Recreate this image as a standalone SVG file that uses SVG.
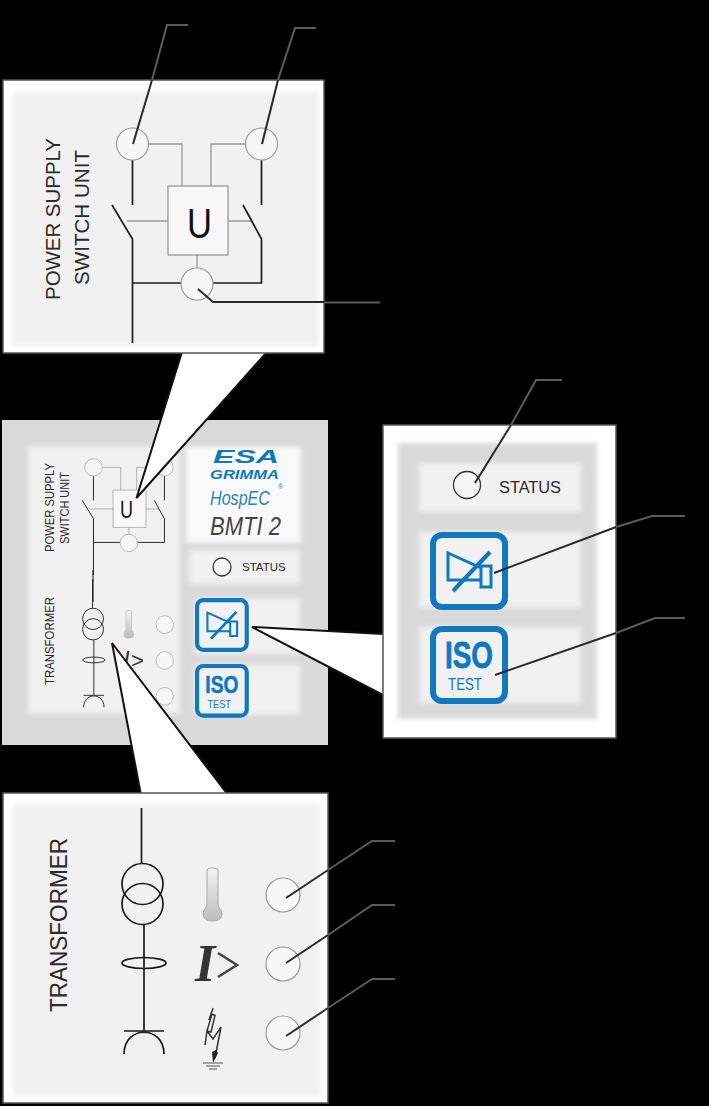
<svg xmlns="http://www.w3.org/2000/svg" xmlns:xlink="http://www.w3.org/1999/xlink" width="709" height="1106" viewBox="0 0 709 1106">
<style>
text{font-family:"Liberation Sans",Arial,sans-serif;fill:#2a2a2a}
.panel{fill:#fff;stroke:#555;stroke-width:1.500}
.soft{fill:#f1f1f1;filter:url(#blur)}
.softw{fill:#fafafa;filter:url(#blur)}
.gray{fill:#d9d9d9;filter:url(#blur)}
.thin{fill:none;stroke:#999;stroke-width:1.300}
.wire{fill:none;stroke:#1a1a1a;stroke-width:1.700}
.led{fill:#f7f7f7;stroke:#999;stroke-width:1.200}
.ledk{fill:#f7f7f7;stroke:#333;stroke-width:1.300}
.wedge{fill:#fff;stroke:none}
.edge{fill:none;stroke:#111;stroke-width:2}
.lead{fill:none;stroke:#2a2a2a;stroke-width:2}
.leadout{fill:none;stroke:#5c5c5c;stroke-width:2}
.blue{fill:none;stroke:#0f78be}
</style>
<defs>
<filter id="blur" x="-10%" y="-10%" width="120%" height="120%"><feGaussianBlur stdDeviation="2.500"/></filter>
<linearGradient id="therm" x1="0" y1="0" x2="0" y2="1"><stop offset="0" stop-color="#f4f4f4"/><stop offset="1" stop-color="#bdbdbd"/></linearGradient>
<g id="schemPower">
<path class="thin" d="M149 144H182V186M211 186V144H245"/>
<path class="thin" d="M127 221H168M228 221H252M197 255V268"/>
<rect x="168" y="186" width="60" height="69" fill="#f8f8f8" stroke="#999" stroke-width="1.300"/>
<path class="wire" d="M132.500 160V205M261.500 160V205M112 205L132.500 239V343M243 205L261.500 239V283H213M181 283H132.500"/>
<circle class="led" cx="132.500" cy="144" r="16"/>
<circle class="led" cx="261.500" cy="144" r="16"/>
<circle class="led" cx="197" cy="284" r="16"/>
</g>
<g id="schemTrans">
<path class="wire" d="M141.500 808V864M144 925V1031M124 1031H164"/>
<circle cx="142.500" cy="884" r="20.500" class="wire"/>
<circle cx="142.500" cy="904" r="20.500" class="wire"/>
<ellipse cx="144" cy="963" rx="22" ry="5.500" class="wire"/>
<path class="wire" d="M124 1054C124 1025 164 1025 164 1054"/>
<path d="M207 870Q207 868 212.500 868Q218 868 218 870V906Q222 910 222 914Q222 921 212.500 921Q203 921 203 914Q203 910 207 906Z" fill="url(#therm)" stroke="#aaa"/>
<circle class="led" cx="283" cy="895" r="17"/>
<circle class="led" cx="283" cy="964" r="17"/>
<circle class="led" cx="283" cy="1033" r="17"/>
</g>
<g id="btnMute">
<rect x="433" y="535" width="72" height="72" rx="9" class="blue" stroke-width="6" fill="#fff"/>
<path class="blue" stroke-width="3" d="M448 553L481 568V580H448ZM481 566H491V587H481Z"/>
<path class="blue" stroke-width="4" d="M453 591L490 552"/>
</g>
<g id="btnIso">
<rect x="433" y="629" width="72" height="72" rx="9" class="blue" stroke-width="6" fill="#fff"/>
<text x="445" y="668" font-size="36" font-weight="bold" style="fill:#0f78be;stroke:#0f78be;stroke-width:.8" textLength="48" lengthAdjust="spacingAndGlyphs">ISO</text>
<text x="448" y="690" font-size="17" style="fill:#0f78be" textLength="34" lengthAdjust="spacingAndGlyphs">TEST</text>
</g>
</defs>
<rect width="709" height="1106" fill="#000"/>

<g id="device-panel">
<rect x="2" y="420" width="326" height="325" fill="#d9d9d9"/>
<rect x="28" y="446" width="152" height="268" class="soft"/>
<rect x="186" y="447" width="115" height="96" class="softw"/>
<rect x="189" y="550" width="111" height="34" class="soft"/>
<rect x="195" y="598" width="105" height="56" class="soft"/>
<rect x="195" y="665" width="105" height="50" class="soft"/>
<text transform="translate(54 552) rotate(-90)" font-size="12.500" textLength="89" lengthAdjust="spacingAndGlyphs">POWER SUPPLY</text>
<text transform="translate(69 544) rotate(-90)" font-size="12.500" textLength="72" lengthAdjust="spacingAndGlyphs">SWITCH UNIT</text>
<text transform="translate(54 685) rotate(-90)" font-size="12.500" textLength="88" lengthAdjust="spacingAndGlyphs">TRANSFORMER</text>
<use xlink:href="#schemPower" href="#schemPower" transform="translate(20.600 389.600) scale(.55 .54)"/>
<path d="M93 570V602" fill="none" stroke="#1a1a1a" stroke-width="1.100"/>
<text x="120" y="518" font-size="23" textLength="13" lengthAdjust="spacingAndGlyphs" style="fill:#111">U</text>
<use xlink:href="#schemTrans" href="#schemTrans" transform="translate(20.400 159.200) scale(.51 .52)"/>
<text x="123" y="668" font-size="24" font-style="italic" style="fill:#333">I</text>
<text x="131" y="668" font-size="22" style="fill:#333">&gt;</text>
<text x="213" y="463" font-size="18" font-weight="bold" font-style="italic" style="fill:#0f78be" textLength="66" lengthAdjust="spacingAndGlyphs">ESA</text>
<text x="210" y="479" font-size="13" font-weight="bold" font-style="italic" style="fill:#0f78be" textLength="69" lengthAdjust="spacingAndGlyphs">GRIMMA</text>
<text x="210" y="505" font-size="20" font-style="italic" style="fill:#2a85b8" textLength="60" lengthAdjust="spacingAndGlyphs">HospEC</text>
<text x="278" y="489" font-size="7" style="fill:#2a85b8">®</text>
<text x="210" y="535" font-size="26" font-style="italic" style="fill:#444" textLength="71" lengthAdjust="spacingAndGlyphs">BMTI 2</text>
<circle class="ledk" cx="222" cy="567" r="9"/>
<text x="242" y="571" font-size="11.500">STATUS</text>
<use xlink:href="#btnMute" href="#btnMute" transform="translate(-101.700 231) scale(.69)"/>
<use xlink:href="#btnIso" href="#btnIso" transform="translate(-101.700 232) scale(.69)"/>
</g>

<g id="callout-wedges">
<path class="wedge" d="M182 352L136.500 498L267 352Z"/>
<path class="edge" d="M182 352L136.500 498L267 352"/>
<path class="wedge" d="M383 634L252 627L383 695Z"/>
<path class="edge" d="M383 634L252 627L383 695"/>
<path class="wedge" d="M141 795L112 643L228 795Z"/>
<path class="edge" d="M141 795L112 643L228 795"/>
</g>

<g id="power-supply-panel">
<rect x="3" y="80" width="321" height="273" class="panel"/>
<rect x="13" y="92" width="306" height="254" class="soft"/>
<use xlink:href="#schemPower" href="#schemPower"/>
<text transform="translate(60 300) rotate(-90)" font-size="20.500" textLength="162" lengthAdjust="spacingAndGlyphs">POWER SUPPLY</text>
<text transform="translate(89 285) rotate(-90)" font-size="20.500" textLength="135" lengthAdjust="spacingAndGlyphs">SWITCH UNIT</text>
<text x="187" y="238" font-size="43" textLength="25" lengthAdjust="spacingAndGlyphs" style="fill:#111">U</text>
</g>

<g id="buttons-panel">
<rect x="383" y="425" width="233" height="313" class="panel"/>
<rect x="398" y="443" width="199" height="276" class="gray"/>
<rect x="419" y="463" width="162" height="49" class="soft"/>
<rect x="419" y="532" width="162" height="76" class="soft"/>
<rect x="419" y="627" width="162" height="76" class="soft"/>
<circle class="ledk" cx="467" cy="485" r="13.500"/>
<text x="499" y="493" font-size="16.500" textLength="62" lengthAdjust="spacingAndGlyphs">STATUS</text>
<use xlink:href="#btnMute" href="#btnMute"/>
<use xlink:href="#btnIso" href="#btnIso"/>
</g>

<g id="transformer-panel">
<rect x="3" y="793" width="325" height="310" class="panel"/>
<rect x="13" y="804" width="308" height="292" class="soft"/>
<use xlink:href="#schemTrans" href="#schemTrans"/>
<text transform="translate(67 1012) rotate(-90)" font-size="23.500" textLength="174" lengthAdjust="spacingAndGlyphs">TRANSFORMER</text>
<text x="195" y="981" font-size="52" font-style="italic" font-weight="bold" style="font-family:'Liberation Serif',serif;fill:#333">I</text>
<path d="M218 953L237 965L218 977" fill="none" stroke="#444" stroke-width="2.500"/>
<path d="M213 1008L209 1020M207 1031L212 1014L215 1015.500L211 1032ZM205 1045L207 1031L213 1039L221 1027L215 1058" fill="none" stroke="#333" stroke-width="1.500"/>
<path d="M216 1050L218 1053L213 1063L212 1052Z" fill="#222"/>
<path d="M203 1063H223M206 1066H220M209 1069H217" stroke="#555" stroke-width="1.200" fill="none"/>
</g>

<g id="connectors">
<path class="lead" d="M133 144L152 80"/><path class="leadout" d="M152 80L167 25H188"/>
<path class="lead" d="M262 144L278 80"/><path class="leadout" d="M278 80L295 28H316"/>
<path class="lead" d="M198 289L213 302H324"/><path class="leadout" d="M324 302.500H380"/>
<path class="lead" d="M475 483L511 425"/><path class="leadout" d="M511 425L536 380H562"/>
<path class="lead" d="M494 573L616 527"/><path class="leadout" d="M616 527L652 516H685"/>
<path class="lead" d="M495 675L616 633"/><path class="leadout" d="M616 633L655 618H685"/>
<path class="lead" d="M286 898L328 870"/><path class="leadout" d="M328 870L372 841H395"/>
<path class="lead" d="M286 963L328 935"/><path class="leadout" d="M328 935L372 905H395"/>
<path class="lead" d="M286 1036L328 1008"/><path class="leadout" d="M328 1008L372 979H395"/>
</g>
</svg>
